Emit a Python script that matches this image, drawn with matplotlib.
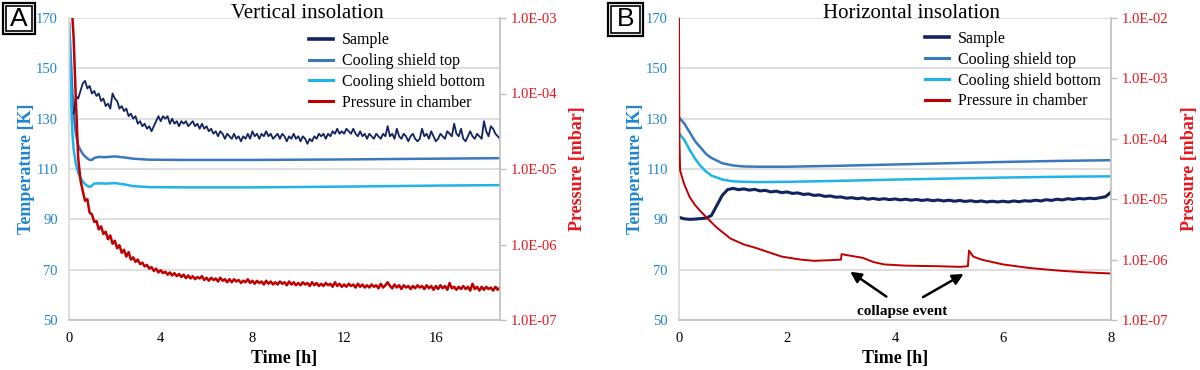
import numpy as np
import matplotlib
matplotlib.use("Agg")
import matplotlib.pyplot as plt
from matplotlib.lines import Line2D
from matplotlib.patches import Rectangle
from matplotlib.ticker import FixedLocator, FuncFormatter, NullLocator

plt.rcParams['font.family'] = ['Liberation Serif', 'DejaVu Serif']

# ---------------- data: panel A (vertical insolation) ----------------
a_sample_t0, a_sample_dt = 0.2, 0.1
a_sample = [132, 139, 138, 141, 144, 145, 142, 143, 140, 141, 139, 140, 137, 138, 135, 136, 134, 140,
            138, 137, 134, 135, 133, 134, 131, 132, 130, 131, 128, 129, 127, 128, 126, 127, 125, 127,
            129, 131, 129, 131, 130, 131, 128, 130, 128, 129, 127, 129, 128, 129, 127, 128, 129, 127,
            128, 126, 128, 126, 127, 125, 126, 124, 125, 123, 125, 124, 122, 124, 123, 122, 124, 122,
            123, 121, 123, 122, 124, 122, 125, 123, 124, 122, 124, 123, 125, 123, 124, 122, 123, 124,
            122, 124, 123, 121, 123, 122, 124, 122, 123, 121, 123, 122, 120, 122, 121, 123, 122, 124,
            123, 124, 122, 124, 123, 125, 124, 126, 124, 125, 124, 126, 125, 124, 126, 124, 123, 125,
            123, 124, 122, 124, 123, 122, 124, 123, 122, 124, 123, 127, 123, 124, 122, 126, 123, 122,
            124, 123, 121, 123, 124, 122, 121, 122, 126, 123, 124, 122, 125, 123, 121, 122, 124, 123,
            122, 125, 124, 123, 128, 124, 123, 126, 122, 121, 123, 125, 123, 122, 124, 123, 122, 129,
            125, 123, 127, 126, 124, 123, 122]

a_shield_t = [0, 0.05, 0.1, 0.15, 0.2, 0.3, 0.4, 0.5, 0.6, 0.7, 0.8, 0.9, 1.0, 1.1, 1.3, 1.6, 2.0,
              2.4, 2.8, 3.5, 5, 8, 12, 16, 18.8]
a_shield_top = [168, 160, 150, 140, 132, 124, 119.5, 117.5, 116, 115, 114.2, 113.6, 113.6, 114.4,
                114.8, 114.7, 115, 114.6, 114.1, 113.7, 113.6, 113.6, 113.8, 114.1, 114.3]
a_shield_bot = [168, 150, 135, 124, 118, 112, 108.5, 106.5, 105, 104, 103.3, 102.9, 103.4, 104.2,
                104.3, 104.2, 104.4, 103.9, 103.2, 102.8, 102.7, 102.7, 103.0, 103.4, 103.6]

a_press_head_t = [0.1, 0.15, 0.2, 0.3, 0.4, 0.5]
a_press_head_log = [-2.6, -3.0, -3.25, -4.09, -4.85, -5.15]
a_press_t0, a_press_dt = 0.6, 0.1
a_press_log = [-5.29, -5.42, -5.40, -5.58, -5.60, -5.70, -5.69, -5.80, -5.76, -5.86, -5.83, -5.93,
               -5.88, -5.99, -5.95, -6.05, -6.01, -6.11, -6.07, -6.16, -6.10, -6.20, -6.17, -6.23,
               -6.20, -6.26, -6.24, -6.29, -6.27, -6.32, -6.30, -6.35, -6.32, -6.37, -6.34, -6.38,
               -6.36, -6.40, -6.37, -6.41, -6.38, -6.42, -6.39, -6.43, -6.40,
               -6.445, -6.41, -6.45, -6.42, -6.46, -6.43, -6.45, -6.42, -6.47, -6.44,
               -6.48, -6.44, -6.47, -6.45, -6.49, -6.44, -6.48, -6.46, -6.50, -6.46,
               -6.50, -6.46, -6.49, -6.47, -6.51, -6.48, -6.50, -6.46, -6.51, -6.48,
               -6.52, -6.48, -6.51, -6.49, -6.53, -6.48, -6.52, -6.49, -6.53, -6.50,
               -6.53, -6.49, -6.52, -6.50, -6.54, -6.49, -6.53, -6.50, -6.54, -6.51,
               -6.54, -6.50, -6.53, -6.51, -6.55, -6.50, -6.54, -6.51, -6.55, -6.52,
               -6.55, -6.51, -6.54, -6.52, -6.56, -6.50, -6.55, -6.52, -6.56, -6.53,
               -6.56, -6.52, -6.55, -6.53, -6.57, -6.52, -6.56, -6.53, -6.57, -6.54,
               -6.57, -6.53, -6.56, -6.54, -6.58, -6.52, -6.57, -6.54, -6.50, -6.55,
               -6.58, -6.53, -6.57, -6.54, -6.59, -6.54, -6.57, -6.55, -6.59, -6.55,
               -6.58, -6.54, -6.57, -6.55, -6.59, -6.54, -6.58, -6.55, -6.60, -6.55,
               -6.59, -6.54, -6.58, -6.55, -6.60, -6.51, -6.58, -6.56, -6.60, -6.56,
               -6.59, -6.55, -6.59, -6.56, -6.61, -6.52, -6.59, -6.56, -6.61, -6.56,
               -6.60, -6.56, -6.59, -6.57, -6.61, -6.56, -6.60, -6.57]

# ---------------- data: panel B (horizontal insolation) ----------------
b_sample_t0, b_sample_dt = 0.0, 0.1
b_sample = [90.8, 90.2, 90.0, 90.1, 90.3, 90.5, 91.5, 95.5, 99.5, 101.8, 102.3, 101.8, 102.1, 101.6,
            101.9, 101.3, 101.5, 100.9, 101.2, 100.6, 100.9, 100.3, 100.5, 99.9, 100.1, 99.5, 99.7,
            99.1, 99.3, 98.8, 98.9, 98.4, 98.6, 98.2, 98.5, 98.0, 98.3, 97.9, 98.2, 97.8, 98.1, 97.7,
            98.0, 97.6, 97.9, 97.5, 97.8, 97.4, 97.7, 97.3, 97.6, 97.2, 97.5, 97.1, 97.4, 97.0, 97.3,
            96.9, 97.2, 96.9, 97.2, 96.9, 97.3, 97.0, 97.4, 97.2, 97.6, 97.3, 97.8, 97.5, 98.0, 97.7,
            98.2, 97.9, 98.3, 98.1, 98.4, 98.2, 98.6, 99.0, 100.8]

b_shield_t = [0, 0.1, 0.2, 0.3, 0.4, 0.5, 0.6, 0.8, 1.0, 1.2, 1.5, 2, 3, 4, 5, 6, 7, 8]
b_shield_top = [130.5, 128, 124.5, 121, 118.5, 116, 114.4, 112.3, 111.4, 111.0, 110.9, 110.9,
                111.3, 111.8, 112.3, 112.8, 113.2, 113.5]
b_shield_bot = [124.2, 121.5, 117.5, 114, 111.2, 109, 107.4, 105.8, 105.1, 104.9, 104.8, 104.9,
                105.3, 105.8, 106.2, 106.6, 106.9, 107.1]

b_press_t = [0.0, 0.003, 0.008, 0.02, 0.05, 0.1, 0.2, 0.3, 0.4, 0.53, 0.7, 0.95, 1.2, 1.4, 1.7,
             1.9, 2.25, 2.5, 2.8, 3.0, 3.01, 3.2, 3.4, 3.6, 3.8, 4.2, 4.8, 5.2, 5.35, 5.37, 5.45,
             5.6, 6.0, 6.5, 7.0, 7.5, 8.0]
b_press_log = [-2.0, -3.0, -4.0, -4.52, -4.62, -4.76, -4.97, -5.1, -5.2, -5.32, -5.47, -5.65,
               -5.75, -5.8, -5.89, -5.95, -6.0, -6.02, -6.01, -6.0, -5.91, -5.94, -5.97, -6.04,
               -6.08, -6.1, -6.11, -6.12, -6.11, -5.85, -5.95, -6.0, -6.08, -6.14, -6.18, -6.21,
               -6.23]

labels = ["Sample", "Cooling shield top", "Cooling shield bottom", "Pressure in chamber"]
titles = ["Vertical insolation", "Horizontal insolation"]
panel_letters = ["A", "B"]
temp_ticks = [50, 70, 90, 110, 130, 150, 170]

# ---------------- styles ----------------
C_SAMPLE = "#11245f"
C_TOP = "#3a78be"
C_BOT = "#1eb3ea"
C_PRESS = "#c00000"
C_TEMP_LBL = "#1f86cf"
C_PRESS_LBL = "#e8161c"
GRID = "#d9d9d9"
SPINE = "#bfbfbf"

fig = plt.figure(figsize=(12, 3.7), dpi=100)
W, H = 1200, 370


def ax_rect(x0, x1, ytop, ybot):
    return [x0 / W, (H - ybot) / H, (x1 - x0) / W, (ybot - ytop) / H]


def series_t(t0, dt, n):
    return t0 + dt * np.arange(n)


def setup(ax, ax2, xmax, xticks, pmin, pmax, tlab_x, plab_x):
    ax.set_xlim(0, xmax)
    ax.set_ylim(50, 170)
    ax.set_yticks(temp_ticks)
    ax.set_xticks(xticks)
    ax.grid(axis='y', color=GRID, lw=1.2)
    ax.set_axisbelow(True)
    for s in ['top', 'right']:
        ax.spines[s].set_visible(False)
    ax.spines['left'].set_color(GRID)
    ax.spines['bottom'].set_color(SPINE)
    ax.spines['left'].set_linewidth(1.2)
    ax.spines['bottom'].set_linewidth(1.2)
    ax.tick_params(axis='y', length=0, pad=8, labelsize=10.5, labelcolor=C_TEMP_LBL)
    ax.tick_params(axis='x', length=0, pad=9, labelsize=10.5, labelcolor='black')
    ax.set_xlabel("Time [h]", fontsize=13, fontweight='bold', labelpad=3)
    ax.set_ylabel("Temperature [K]", fontsize=13, fontweight='bold', color=C_TEMP_LBL)
    ax.yaxis.set_label_coords(tlab_x, 0.5)

    ax2.set_yscale('log')
    ax2.set_ylim(pmin, pmax)
    decades = [10.0 ** k for k in range(int(round(np.log10(pmin))), int(round(np.log10(pmax))) + 1)]
    ax2.yaxis.set_major_locator(FixedLocator(decades))
    ax2.yaxis.set_minor_locator(NullLocator())
    ax2.yaxis.set_major_formatter(FuncFormatter(lambda v, p: f"{v:.1E}"))
    for s in ['top', 'left', 'bottom']:
        ax2.spines[s].set_visible(False)
    ax2.spines['right'].set_color(SPINE)
    ax2.spines['right'].set_linewidth(1.2)
    ax2.tick_params(axis='y', which='major', length=4, width=1, color=SPINE, pad=3.5,
                    labelsize=10.5, labelcolor=C_PRESS_LBL)
    ax2.set_ylabel("Pressure [mbar]", fontsize=13, fontweight='bold', color=C_PRESS_LBL,
                   rotation=90)
    ax2.yaxis.set_label_coords(plab_x, 0.5)


def legend(ax2, x, y):
    handles = [Line2D([], [], color=C_SAMPLE, lw=2.6),
               Line2D([], [], color=C_TOP, lw=2.2),
               Line2D([], [], color=C_BOT, lw=2.2),
               Line2D([], [], color=C_PRESS, lw=2.2)]
    ax2.legend(handles, labels, loc='upper left', bbox_to_anchor=(x, y), frameon=False,
               fontsize=11.5, borderpad=0, borderaxespad=0, handlelength=1.5,
               handletextpad=0.55, labelspacing=0.3)


def panel_box(x0, y0, x1, y1, letter):
    for inset, lw in [(0, 1.6), (2.6, 1.2)]:
        r = Rectangle(((x0 + inset) / W, (H - y1 + inset) / H), (x1 - x0 - 2 * inset) / W,
                      (y1 - y0 - 2 * inset) / H, transform=fig.transFigure, fill=False,
                      edgecolor='black', lw=lw)
        fig.add_artist(r)
    fig.text((x0 + x1) / 2 / W, (H - (y0 + y1) / 2) / H, letter, ha='center', va='center',
             fontsize=19, family='Liberation Sans')


# ---------------- panel A ----------------
axA = fig.add_axes(ax_rect(69, 500, 18, 320))
axA2 = axA.twinx()
setup(axA, axA2, 18.8, [0, 4, 8, 12, 16], 1e-7, 1e-3, -0.078, 1.160)
axA.plot(a_shield_t, a_shield_top, color=C_TOP, lw=1.8)
axA.plot(a_shield_t, a_shield_bot, color=C_BOT, lw=1.8)
axA.plot(series_t(a_sample_t0, a_sample_dt, len(a_sample)), a_sample, color=C_SAMPLE, lw=1.3)
ta = np.concatenate([a_press_head_t, series_t(a_press_t0, a_press_dt, len(a_press_log))])
pa = 10.0 ** np.array(a_press_head_log + a_press_log)
axA2.plot(ta, pa, color=C_PRESS, lw=1.8)
legend(axA2, 0.557, 0.952)
fig.text(307.5 / W, (H - 18) / H, titles[0], ha='center', va='baseline', fontsize=15)
panel_box(3, 3, 35, 34, panel_letters[0])

# ---------------- panel B ----------------
axB = fig.add_axes(ax_rect(679, 1111, 18, 320))
axB2 = axB.twinx()
setup(axB, axB2, 8, [0, 2, 4, 6, 8], 1e-7, 1e-2, -0.081, 1.162)
axB.plot(b_shield_t, b_shield_top, color=C_TOP, lw=1.8)
axB.plot(b_shield_t, b_shield_bot, color=C_BOT, lw=1.8)
axB.plot(series_t(b_sample_t0, b_sample_dt, len(b_sample)), b_sample, color=C_SAMPLE, lw=2.2)
axB2.plot(b_press_t, 10.0 ** np.array(b_press_log), color=C_PRESS, lw=1.4)
legend(axB2, 0.569, 0.957)
fig.text(911.7 / W, (H - 18) / H, titles[1], ha='center', va='baseline', fontsize=15)
panel_box(608, 3, 643, 36, panel_letters[1])

arrow = dict(arrowstyle='-|>', color='black', lw=1.8, mutation_scale=16, shrinkA=0, shrinkB=0)
axB.annotate('', xy=(3.17, 69.2), xytext=(3.84, 59.3), arrowprops=arrow)
axB.annotate('', xy=(5.27, 68.3), xytext=(4.52, 59.1), arrowprops=arrow)
axB.text(4.14, 53.3, "collapse event", ha='center', va='center', fontsize=11, fontweight='bold')

fig.savefig("out.png", dpi=100)
